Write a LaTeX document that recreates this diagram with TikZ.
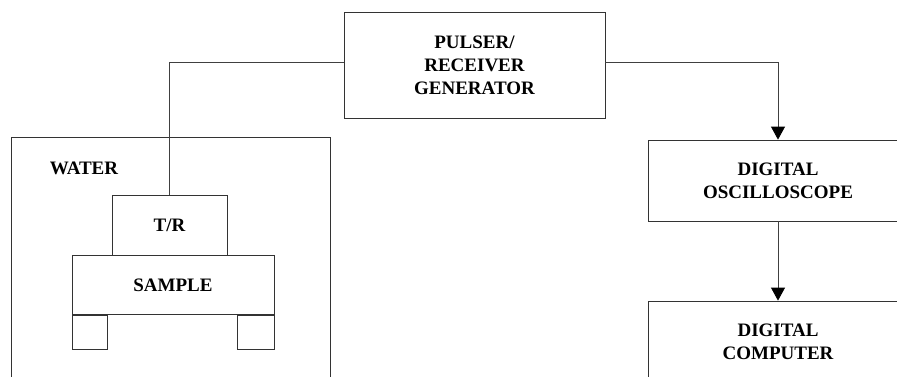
\documentclass[tikz,border=0pt]{standalone}
\usepackage{fontspec}
\setmainfont{Liberation Serif}
\usepackage{tikz}
\usetikzlibrary{positioning, arrows.meta}

\begin{document}
\begin{tikzpicture}[
    x=1pt, y=-1pt,
    box/.style={rectangle, draw=black!80, line width=0.8pt, align=center,
                font=\fontsize{19}{23}\selectfont\bfseries, inner sep=0pt},
    link/.style={draw=black!75, line width=0.8pt},
    signal/.style={link, -{Triangle[width=14pt, length=13pt, fill=black, color=black]}},
  ]
    \useasboundingbox (0,0) rectangle (897,376);
    \clip (0,0) rectangle (897,376);

    % tank with the sample
    \node[box, minimum width=319pt, minimum height=260pt] (tank) at (170.5,267) {};
    \node[box, draw=none] (water) at (84,168) {WATER};
    \node[box, minimum width=115pt, minimum height=60pt] (TR) at (169.5,225) {T/R};
    \node[box, minimum width=202pt, minimum height=59pt, below=0pt of TR, xshift=3.5pt] (sample) {SAMPLE};
    \node[box, minimum width=35pt, minimum height=34pt, anchor=north west] (footL) at (sample.south west) {};
    \node[box, minimum width=37pt, minimum height=34pt, anchor=north east] (footR) at (sample.south east) {};

    % instruments
    \node[box, minimum width=261pt, minimum height=106pt] (pulser) at (474.5,65) {PULSER/\\RECEIVER\\GENERATOR};
    \node[box, minimum width=260pt, minimum height=81pt] (scope) at (778,180.5) {DIGITAL\\OSCILLOSCOPE};
    \node[box, minimum width=260pt, minimum height=81pt] (computer) at (778,341.5) {DIGITAL\\COMPUTER};

    \draw[link] ([yshift=3pt]pulser.west) -| (TR.north);
    \draw[signal] ([yshift=3pt]pulser.east) -| (scope.north);
    \draw[signal] (scope) -- (computer);
  \end{tikzpicture}
\end{document}
